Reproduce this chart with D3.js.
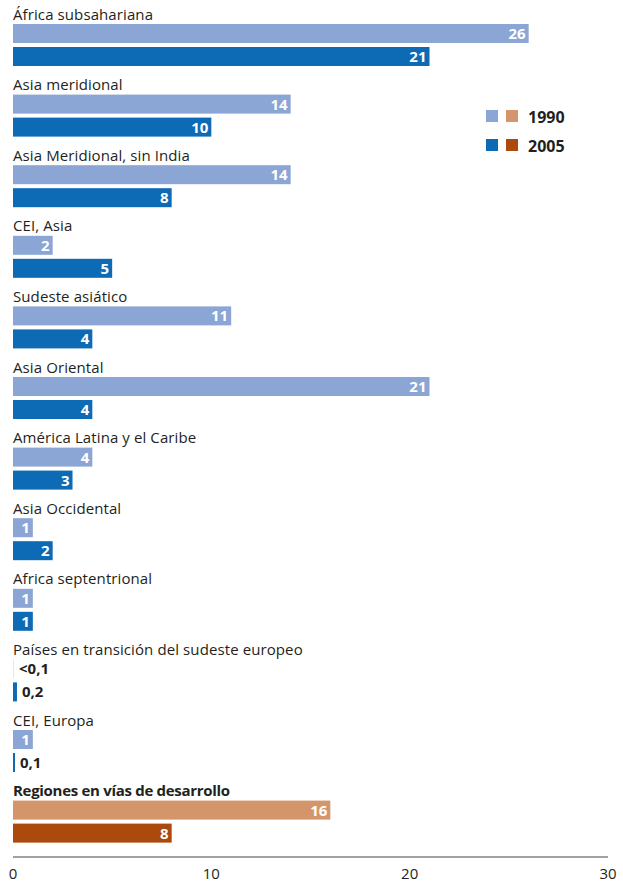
<!DOCTYPE html>
<html>
<head>
<meta charset="utf-8">
<script src="https://cdn.jsdelivr.net/npm/d3@7"></script>
<style>
  body { margin: 0; background: #fff; }
  text { font-family: "Open Sans", "Noto Sans", sans-serif; }
</style>
</head>
<body>
<div class="chart"></div>
<script>
// Configuration
var width = 623;
var height = 882;

// data
var categories = [
  "África subsahariana",
  "Asia meridional",
  "Asia Meridional, sin India",
  "CEI, Asia",
  "Sudeste asiático",
  "Asia Oriental",
  "América Latina y el Caribe",
  "Asia Occidental",
  "Africa septentrional",
  "Países en transición del sudeste europeo",
  "CEI, Europa",
  "Regiones en vías de desarrollo"
];
var values1990 = [26, 14, 14, 2, 11, 21, 4, 1, 1, 0.05, 1, 16];
var values2005 = [21, 10, 8, 5, 4, 4, 3, 2, 1, 0.2, 0.1, 8];
var labels1990 = ["26", "14", "14", "2", "11", "21", "4", "1", "1", "<0,1", "1", "16"];
var labels2005 = ["21", "10", "8", "5", "4", "4", "3", "2", "1", "0,2", "0,1", "8"];
var ticks = [0, 10, 20, 30];
var years = ["1990", "2005"];

var lightBlue = "#8BA5D5", darkBlue = "#0D6AB5";
var lightBrown = "#D4956B", darkBrown = "#AB4A0C";

var svg = d3.select(".chart").append("svg")
    .attr("width", width)
    .attr("height", height);

var x = d3.scaleLinear().domain([0, 30]).range([13, 608]);
var y = d3.scaleBand().domain(categories).range([0, 847.2]).paddingInner(0);

var barH = 19;

var groups = svg.selectAll("g.group")
    .data(categories)
    .enter().append("g")
    .attr("class", "group")
    .attr("transform", function(d) { return "translate(0," + y(d) + ")"; });

// category labels
groups.append("text")
    .attr("x", 13)
    .attr("y", 19.5)
    .attr("font-size", 15)
    .attr("fill", "#231f20")
    .attr("font-weight", function(d, i) { return i == categories.length - 1 ? "bold" : "normal"; })
    .attr("letter-spacing", function(d, i) { return i == categories.length - 1 ? "-0.3" : "0.1"; })
    .text(function(d) { return d; });

function drawBars(vals, labs, offset, col, colLast) {
  groups.append("rect")
    .attr("x", x(0))
    .attr("y", offset)
    .attr("height", barH)
    .attr("width", function(d, i) { return Math.max(1, x(vals[i]) - x(0)); })
    .attr("fill", function(d, i) { return i == categories.length - 1 ? colLast : col; })
    .attr("opacity", function(d, i) { return vals[i] < 0.1 ? 0.25 : 1; });

  groups.append("text")
    .attr("y", offset + 15)
    .attr("font-size", 15)
    .attr("font-weight", "bold")
    .attr("x", function(d, i) {
      var w = x(vals[i]) - x(0);
      return w < 15 ? x(vals[i]) + 5 : x(vals[i]) - 3;
    })
    .attr("text-anchor", function(d, i) { return x(vals[i]) - x(0) < 15 ? "start" : "end"; })
    .attr("fill", function(d, i) { return x(vals[i]) - x(0) < 15 ? "#231f20" : "#fff"; })
    .text(function(d, i) { return labs[i]; });
}

drawBars(values1990, labels1990, 24, lightBlue, lightBrown);
drawBars(values2005, labels2005, 47, darkBlue, darkBrown);

// axis
var axisY = 857;
svg.append("line")
    .attr("x1", x(0)).attr("x2", x(30))
    .attr("y1", axisY).attr("y2", axisY)
    .attr("stroke", "#444").attr("stroke-width", 1);

svg.selectAll("text.tick")
    .data(ticks)
    .enter().append("text")
    .attr("class", "tick")
    .attr("x", function(d) { return x(d); })
    .attr("y", 879)
    .attr("text-anchor", "middle")
    .attr("font-size", 15)
    .attr("fill", "#231f20")
    .text(function(d) { return d; });

// legend
var legend = svg.append("g");
var legendCols = [[lightBlue, lightBrown], [darkBlue, darkBrown]];
years.forEach(function(yr, i) {
  var ly = 110 + i * 29;
  legend.append("rect").attr("x", 486).attr("y", ly).attr("width", 12).attr("height", 12).attr("fill", legendCols[i][0]);
  legend.append("rect").attr("x", 506).attr("y", ly).attr("width", 12).attr("height", 12).attr("fill", legendCols[i][1]);
  legend.append("text")
    .attr("x", 528).attr("y", ly + 13)
    .attr("font-size", 16).attr("font-weight", "bold")
    .attr("fill", "#231f20")
    .text(yr);
});
</script>
</body>
</html>
